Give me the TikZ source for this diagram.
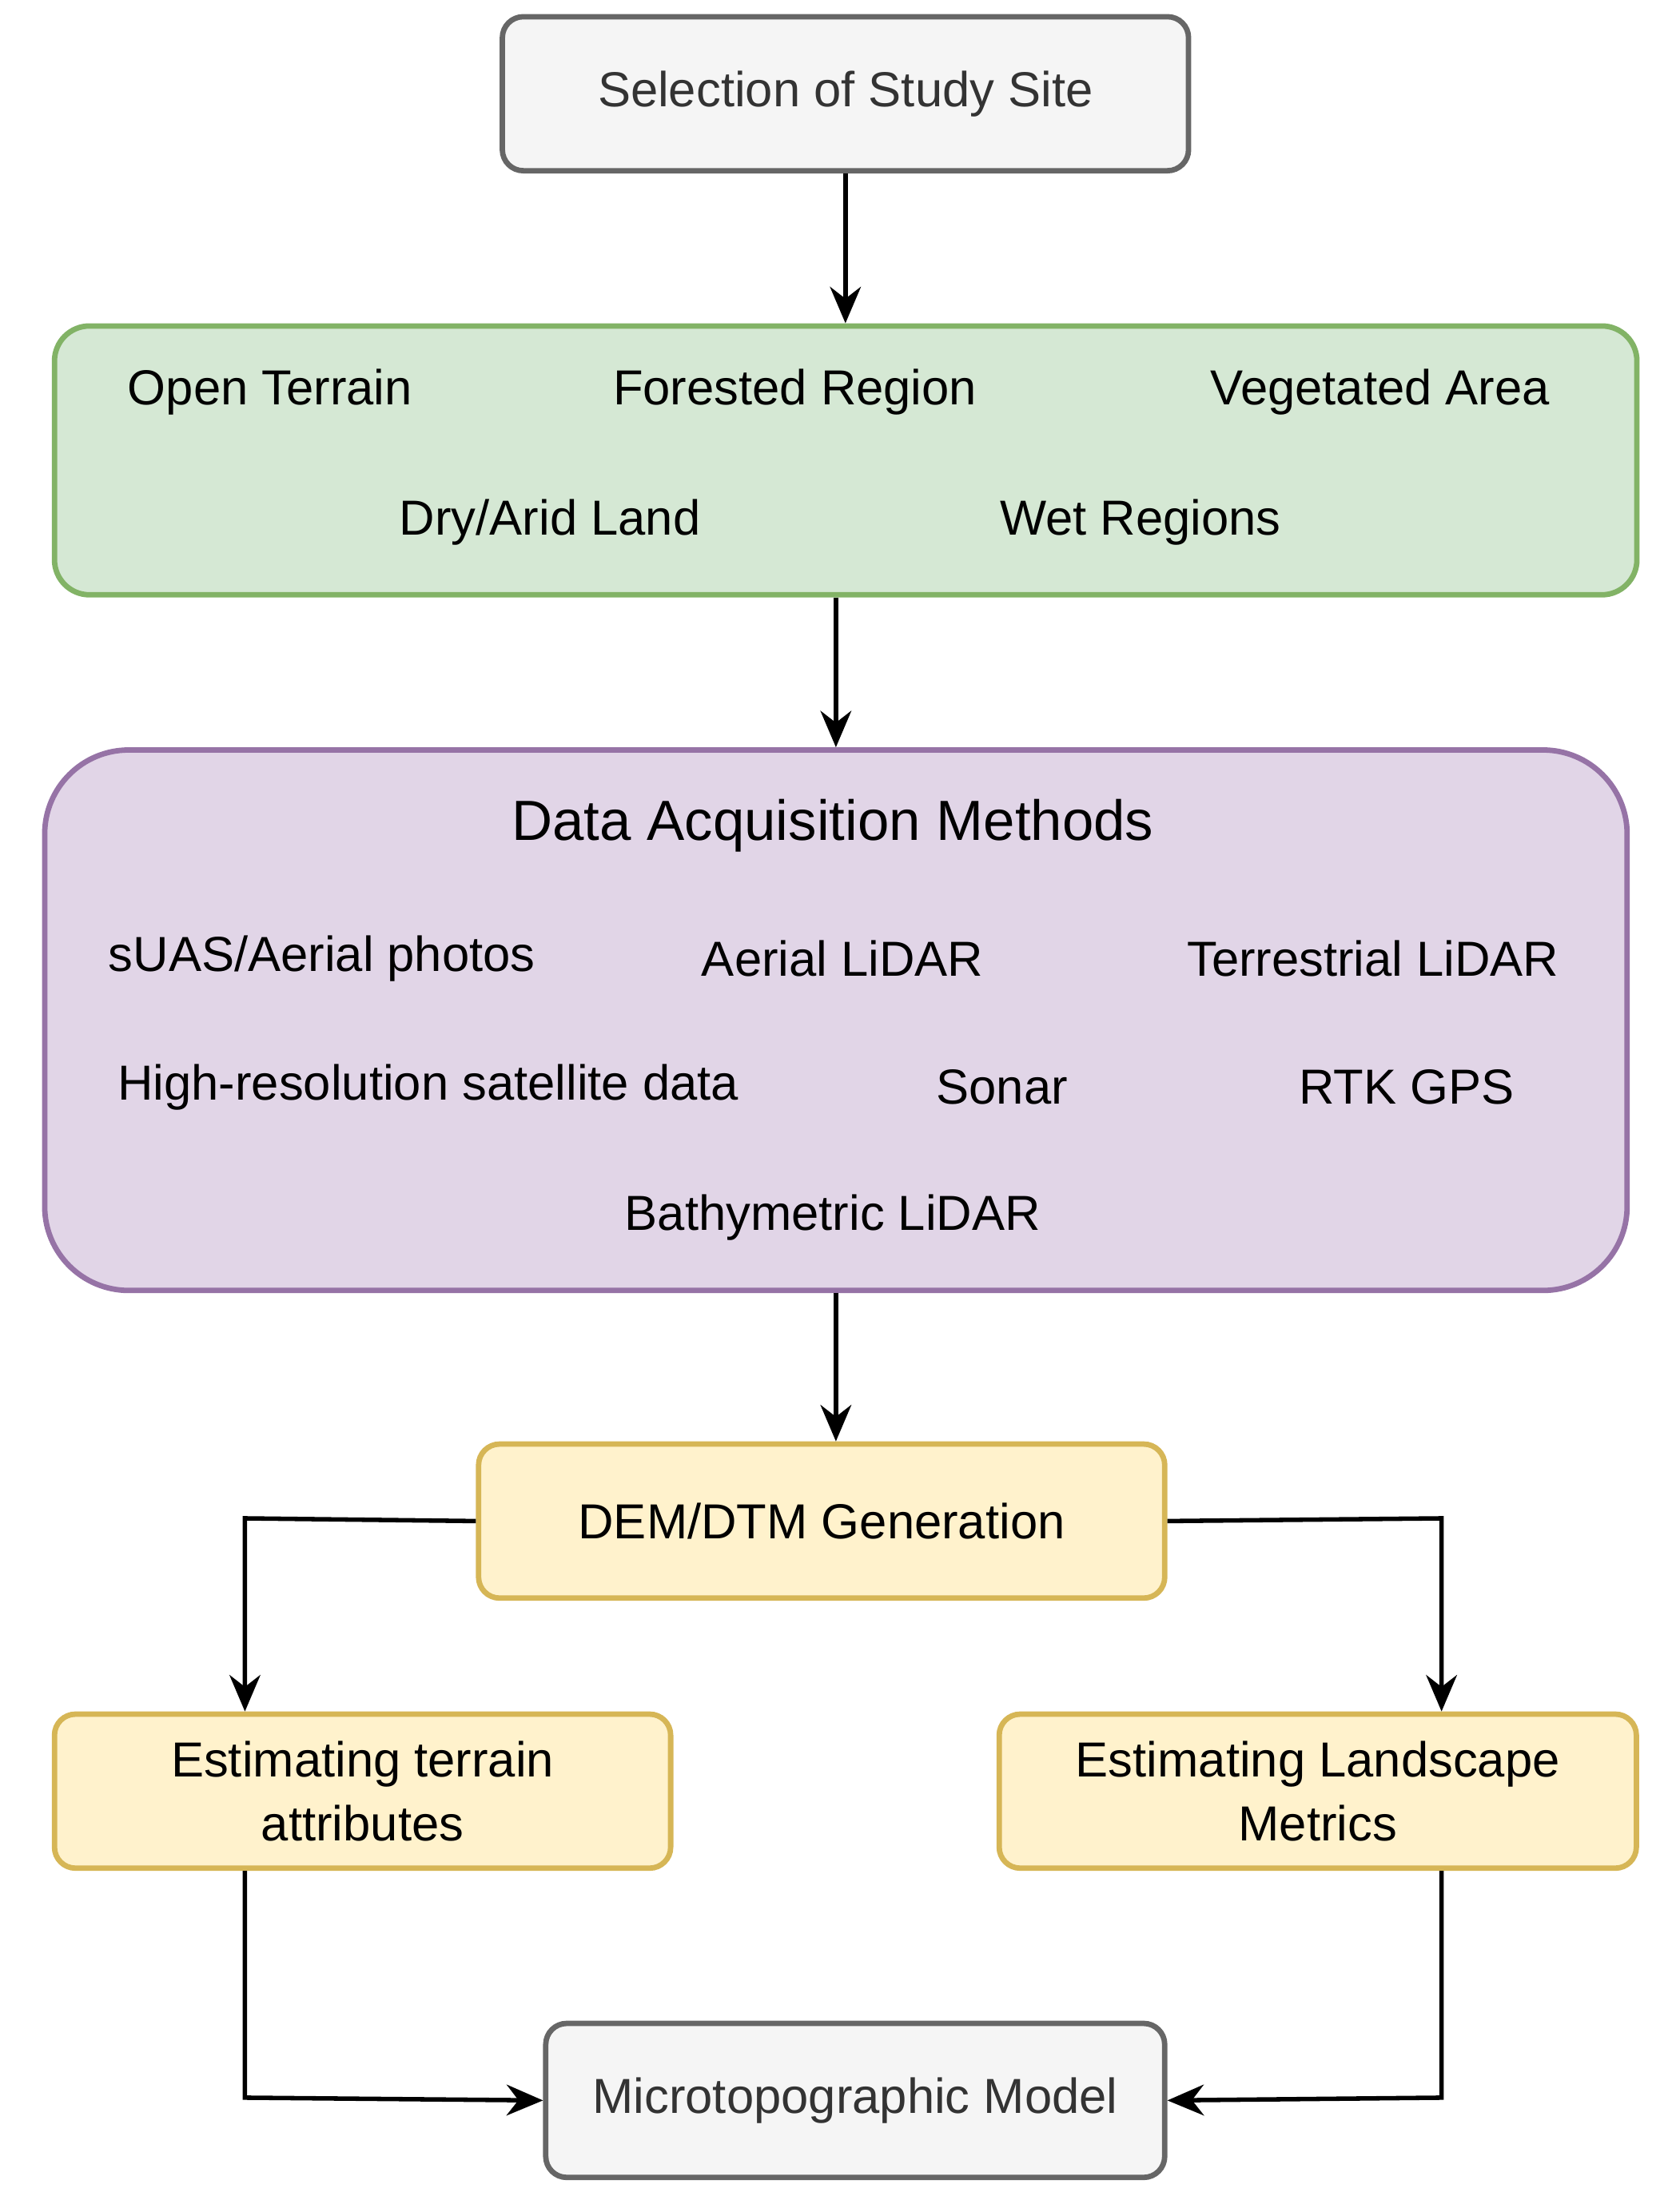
\documentclass[tikz,border=0pt]{standalone}
\usepackage{fontspec}
\setmainfont{Liberation Sans}
\usetikzlibrary{arrows.meta}
\definecolor{grayfill}{HTML}{F5F5F5}
\definecolor{graydraw}{HTML}{666666}
\definecolor{greenfill}{HTML}{D5E8D4}
\definecolor{greendraw}{HTML}{82B366}
\definecolor{purplefill}{HTML}{E1D5E7}
\definecolor{purpledraw}{HTML}{9673A6}
\definecolor{yellowfill}{HTML}{FFF2CC}
\definecolor{yellowdraw}{HTML}{D6B656}
\begin{document}
\begin{tikzpicture}[x=0.01cm,y=-0.01cm,
    box/.style={draw, line width=1.1pt, rounded corners=0.15cm, inner sep=0pt},
    lbl/.style={font=\fontsize{10}{12}\selectfont, align=center, inner sep=0pt},
    arr/.style={line width=0.9pt, -{Stealth[length=2.6mm,width=2.2mm]}}]
  \useasboundingbox (0,0) rectangle (1200,1575);

  % boxes
  \node (site) [box, fill=grayfill, draw=graydraw, minimum width=4.9cm, minimum height=1.1cm, anchor=north west] at (357,10) {};
  \node (terrain) [box, fill=greenfill, draw=greendraw, rounded corners=0.25cm, minimum width=11.3cm, minimum height=1.92cm, anchor=north west] at (37,231) {};
  \node (data) [box, fill=purplefill, draw=purpledraw, rounded corners=0.6cm, minimum width=11.3cm, minimum height=3.86cm, anchor=north west] at (30,534) {};
  \node (dem) [box, fill=yellowfill, draw=yellowdraw, minimum width=4.9cm, minimum height=1.1cm, anchor=north west] at (340,1030) {};
  \node (attr) [box, fill=yellowfill, draw=yellowdraw, minimum width=4.4cm, minimum height=1.1cm, anchor=north west] at (37,1223) {};
  \node (metrics) [box, fill=yellowfill, draw=yellowdraw, minimum width=4.55cm, minimum height=1.1cm, anchor=north west] at (712,1223) {};
  \node (micro) [box, fill=grayfill, draw=graydraw, minimum width=4.42cm, minimum height=1.1cm, anchor=north west] at (388,1444) {};

  % texts
  \node (tsite) [lbl, text=black!80] at (site.center) {Selection of Study Site};
  \node (t1) [lbl] at (193,280) {Open Terrain};
  \node (t2) [lbl] at (568,280) {Forested Region};
  \node (t3) [lbl] at (986,280) {Vegetated Area};
  \node (t4) [lbl] at (393,373) {Dry/Arid Land};
  \node (t5) [lbl] at (815,373) {Wet Regions};
  \node (dtitle) [lbl, font=\fontsize{11.5}{14}\selectfont] at (595,590) {Data Acquisition Methods};
  \node (d1) [lbl] at (230,685) {sUAS/Aerial photos};
  \node (d2) [lbl] at (602,685) {Aerial LiDAR};
  \node (d3) [lbl] at (981,685) {Terrestrial LiDAR};
  \node (d4) [lbl] at (306,777) {High-resolution satellite data};
  \node (d5) [lbl] at (716,777) {Sonar};
  \node (d6) [lbl] at (1005,777) {RTK GPS};
  \node (d7) [lbl] at (595,870) {Bathymetric LiDAR};
  \node (tdem) [lbl] at (dem.center) {DEM/DTM Generation};
  \node (tattr) [lbl] at (attr.center) {Estimating terrain\\[1pt]attributes};
  \node (tmetrics) [lbl] at (metrics.center) {Estimating Landscape\\[1pt]Metrics};
  \node (tmicro) [lbl, text=black!80] at (micro.center) {Microtopographic Model};

  % connectors
  \draw[arr] (site.south) -- (site.south |- terrain.north);
  \draw[arr] (terrain.south -| data.north) -- (data.north);
  \draw[arr] (data.south) -- (data.south |- dem.north);
  \coordinate (c1) at (175,1085);
  \coordinate (c2) at (1030,1085);
  \coordinate (c3) at (175,1499);
  \coordinate (c4) at (1030,1499);
  \draw[arr] (dem.west) -- (c1) -- (c1 |- attr.north);
  \draw[arr] (dem.east) -- (c2) -- (c2 |- metrics.north);
  \draw[arr] (c3 |- attr.south) -- (c3) -- (micro.west);
  \draw[arr] (c4 |- metrics.south) -- (c4) -- (micro.east);
\end{tikzpicture}
\end{document}
